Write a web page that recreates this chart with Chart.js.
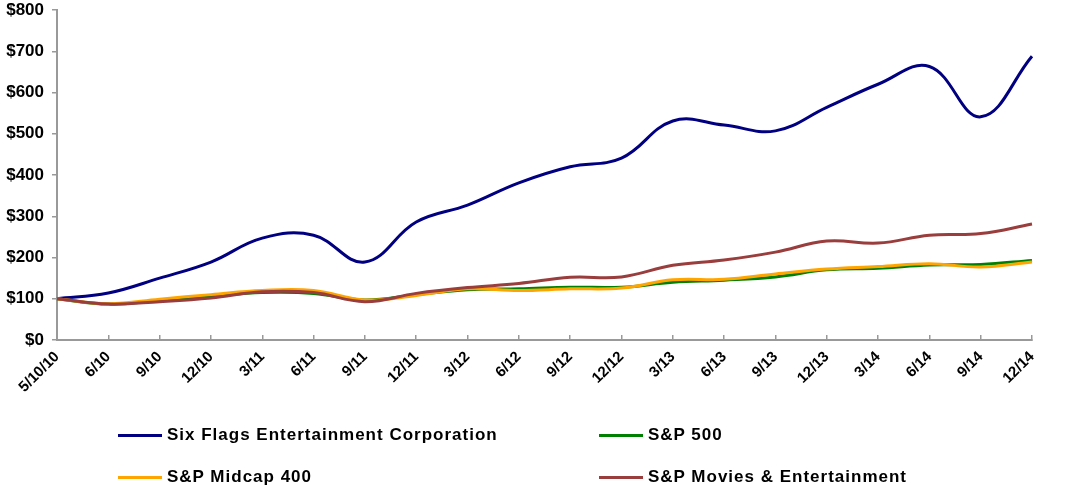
<!DOCTYPE html>
<html>
<head>
<meta charset="utf-8">
<script src="https://cdn.jsdelivr.net/npm/chart.js@4.4.1/dist/chart.umd.min.js"></script>
<style>
  body { margin: 0; background: #fff; }
  #wrap { position: relative; width: 1082px; height: 491px; }
  #legend { position: absolute; left: 0; top: 0; width: 1082px; height: 491px; pointer-events: none;
            font-family: "Liberation Sans", Arial, sans-serif; font-weight: bold; font-size: 17px;
            letter-spacing: 1px; color: #000; }
  .item { position: absolute; display: flex; align-items: center; height: 20px; }
  .swatch { width: 44px; height: 3px; margin-right: 5px; }
</style>
</head>
<body>
<div id="wrap">
  <canvas id="myChart" width="1082" height="491"></canvas>
  <div id="legend"></div>
</div>
<script>
// chart data
const periods = ['5/10/10', '6/10', '9/10', '12/10', '3/11', '6/11', '9/11', '12/11', '3/12', '6/12',
    '9/12', '12/12', '3/13', '6/13', '9/13', '12/13', '3/14', '6/14', '9/14', '12/14'];
const sixFlags = [100, 114, 150, 189, 247, 254, 189, 286, 327, 381, 420, 441, 531, 521, 507, 564, 620, 663, 541, 688];
const sp500 = [100, 87, 96, 106, 115, 113, 97, 110, 122, 124, 128, 128, 140, 145, 153, 170, 174, 182, 183, 193];
const midcap400 = [100, 88, 99, 110, 120, 120, 97, 108, 124, 120, 124, 126, 146, 147, 160, 172, 178, 185, 177, 189];
const moviesEnt = [100, 87, 93, 102, 117, 115, 93, 113, 127, 137, 152, 153, 181, 194, 213, 240, 235, 254, 258, 281];
const yTicks = [0, 100, 200, 300, 400, 500, 600, 700, 800];

const seriesNames = ['Six Flags Entertainment Corporation', 'S&P 500', 'S&P Midcap 400', 'S&P Movies & Entertainment'];
const seriesColors = ['#000080', '#008000', '#FFA500', '#993D3D'];
const seriesValues = [sixFlags, sp500, midcap400, moviesEnt];
const drawOrder = [3, 2, 1, 0];

const data = {
    labels: periods,
    datasets: seriesNames.map(function (name, i) {
        return {
            label: name,
            data: seriesValues[i],
            borderColor: seriesColors[i],
            backgroundColor: seriesColors[i],
            borderWidth: 3,
            pointRadius: 0,
            tension: 0.4,
            fill: false,
            order: drawOrder[i]
        };
    })
};

const axisFont = { family: '"Liberation Sans", Arial, sans-serif', weight: 'bold' };

const config = {
    type: 'line',
    data: data,
    options: {
        responsive: false,
        animation: false,
        layout: { padding: { top: 10, right: 50, bottom: 91, left: 0 } },
        scales: {
            x: {
                offset: false,
                // tick marks point up into the plot, as in the original
                grid: { display: true, drawOnChartArea: false, drawTicks: true, tickLength: -5, color: '#999', lineWidth: 1.5 },
                border: { color: '#999', width: 2 },
                ticks: {
                    color: '#000',
                    font: Object.assign({ size: 15 }, axisFont),
                    minRotation: 45,
                    maxRotation: 45,
                    autoSkip: false,
                    padding: 13
                },
                afterFit: function (scale) { scale.height = 60; }
            },
            y: {
                min: 0,
                max: 800,
                afterBuildTicks: function (scale) {
                    scale.ticks = yTicks.map(function (v) { return { value: v }; });
                },
                grid: { display: true, drawOnChartArea: false, drawTicks: true, tickLength: 5, color: '#999', lineWidth: 1.5 },
                border: { color: '#999', width: 2 },
                ticks: {
                    color: '#000',
                    font: Object.assign({ size: 17 }, axisFont),
                    padding: 8,
                    callback: function (v) { return '$' + v; }
                },
                afterFit: function (scale) {
                    scale.width = 57;
                    scale.paddingTop = 0;
                    scale.paddingBottom = 0;
                }
            }
        },
        plugins: {
            legend: { display: false },
            tooltip: { enabled: false }
        }
    }
};

var myChart = new Chart(document.getElementById('myChart'), config);

// legend in two columns under the plot
const legendSpots = [[118, 425], [599, 425], [118, 467], [599, 467]];
const legendBox = document.getElementById('legend');
myChart.data.datasets.forEach(function (ds, i) {
    const item = document.createElement('div');
    item.className = 'item';
    item.style.left = legendSpots[i][0] + 'px';
    item.style.top = legendSpots[i][1] + 'px';
    const sw = document.createElement('span');
    sw.className = 'swatch';
    sw.style.background = ds.borderColor;
    const txt = document.createElement('span');
    txt.textContent = ds.label;
    item.appendChild(sw);
    item.appendChild(txt);
    legendBox.appendChild(item);
});
</script>
</body>
</html>
